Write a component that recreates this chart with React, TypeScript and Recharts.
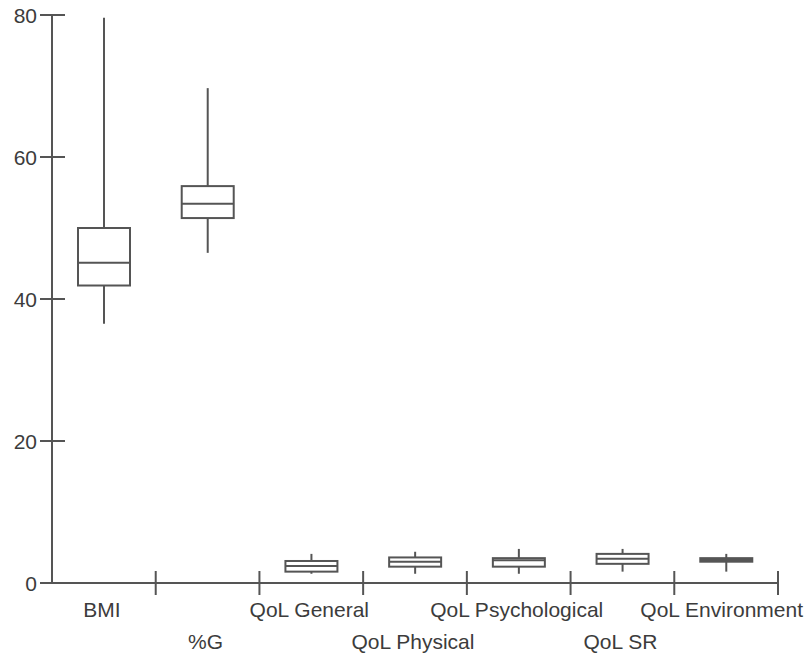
import React from 'react';
import { ComposedChart, Bar, XAxis, YAxis } from 'recharts';

// box plot summary per variable
const categories = ['BMI', '%G', 'QoL General', 'QoL Physical', 'QoL Psychological', 'QoL SR', 'QoL Environment'];
const mins = [36.5, 46.5, 1.3, 1.3, 1.3, 1.6, 1.6];
const q1s = [41.9, 51.4, 1.6, 2.3, 2.3, 2.7, 3.0];
const medians = [45.1, 53.4, 2.4, 3.0, 3.2, 3.4, 3.25];
const q3s = [50.0, 55.9, 3.1, 3.6, 3.5, 4.1, 3.5];
const maxs = [79.6, 69.7, 4.1, 4.4, 4.8, 4.8, 4.1];
const yTicks = [0, 20, 40, 60, 80];

const data = categories.map((name, i) => ({
  name,
  range: [mins[i], maxs[i]],
  min: mins[i],
  q1: q1s[i],
  median: medians[i],
  q3: q3s[i],
  max: maxs[i],
}));

const CHART_W = 808;
const CHART_H = 657;
const MARGIN = { top: 15, right: 30, bottom: 4, left: 8 };
const Y_AXIS_W = 44;
const BAND = (CHART_W - MARGIN.left - MARGIN.right - Y_AXIS_W) / categories.length;
const INK = '#555555';
const TEXT = '#3c3c3c';
const FONT = '"Liberation Sans", Arial, sans-serif';
const FONT_SIZE = 21;

function BoxShape(props: any) {
  const { x, y, width, height, payload } = props;
  const top = Math.min(y, y + height);
  const span = Math.abs(height);
  const py = (v: number) => top + (span * (payload.max - v)) / (payload.max - payload.min);
  const cx = x + width / 2;
  const yMax = py(payload.max);
  const yQ3 = py(payload.q3);
  const yMed = py(payload.median);
  const yQ1 = py(payload.q1);
  const yMin = py(payload.min);
  return (
    <g stroke={INK} strokeWidth={2} fill="none">
      <line x1={cx} x2={cx} y1={yMax} y2={yQ3} />
      <line x1={cx} x2={cx} y1={yQ1} y2={yMin} />
      <rect x={x} y={yQ3} width={width} height={yQ1 - yQ3} fill="#fff" />
      <line x1={x} x2={x + width} y1={yMed} y2={yMed} />
    </g>
  );
}

function YTick({ x, y, payload }: any) {
  return (
    <g>
      <line x1={x - 12} x2={x + 13} y1={y} y2={y} stroke={INK} strokeWidth={2} />
      <text x={x - 15} y={y} dy="0.36em" textAnchor="end" fill={TEXT} fontSize={FONT_SIZE} fontFamily={FONT}>
        {payload.value}
      </text>
    </g>
  );
}

function XTick({ x, y, payload, index }: any) {
  const bx = x + BAND / 2;
  // last label is pulled in so it stays inside the picture
  const last = index === categories.length - 1;
  return (
    <g>
      <line x1={bx} x2={bx} y1={y - 12} y2={y + 12} stroke={INK} strokeWidth={2} />
      <text
        x={last ? CHART_W - 5 : x - 2}
        y={y + (index % 2 ? 66 : 34)}
        textAnchor={last ? 'end' : 'middle'}
        fill={TEXT}
        fontSize={FONT_SIZE}
        fontFamily={FONT}
      >
        {payload.value}
      </text>
    </g>
  );
}

export default function App() {
  return (
    <div style={{ position: 'absolute', left: 0, top: 0, width: CHART_W, height: CHART_H, background: '#fff' }}>
      <ComposedChart width={CHART_W} height={CHART_H} data={data} margin={MARGIN}>
        <XAxis
          dataKey="name"
          interval={0}
          height={70}
          tickSize={0}
          tickMargin={0}
          tickLine={false}
          axisLine={{ stroke: INK, strokeWidth: 2 }}
          tick={<XTick />}
        />
        <YAxis
          domain={[0, 80]}
          ticks={yTicks}
          width={Y_AXIS_W}
          tickSize={0}
          tickMargin={0}
          tickLine={false}
          axisLine={{ stroke: INK, strokeWidth: 2 }}
          tick={<YTick />}
        />
        <Bar dataKey="range" barSize={52} shape={<BoxShape />} isAnimationActive={false} />
      </ComposedChart>
    </div>
  );
}
